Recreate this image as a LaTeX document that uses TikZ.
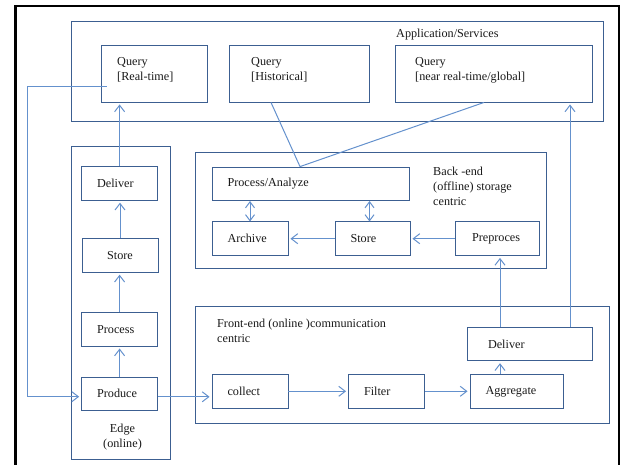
\documentclass[tikz,border=0pt]{standalone}
\usepackage{fontspec}
\setmainfont{Liberation Serif}
\usepackage{xcolor}
\usetikzlibrary{arrows.meta, calc}
\definecolor{boxc}{RGB}{60,95,145}
\definecolor{linec}{RGB}{100,145,205}
\definecolor{txtc}{RGB}{25,25,25}
\tikzset{
  box/.style={draw=boxc, line width=0.9pt, inner xsep=15.5pt, inner ysep=0pt,
    align=left, text=txtc, minimum height=33.5pt},
  group/.style={draw=boxc, line width=0.9pt, inner sep=0pt},
  lbl/.style={text=txtc, inner sep=0pt, align=left},
  link/.style={draw=linec, line width=1pt},
  arr/.style={link, shorten >=2pt, -{Straight Barb[length=6.5pt, width=10pt]}},
  darr/.style={link, {Straight Barb[length=6pt, width=9pt]}-{Straight Barb[length=6pt, width=9pt]}},
}

\begin{document}
\begin{tikzpicture}[x=1pt, y=-1pt, font=\fontsize{12.2}{15}\selectfont]
  \useasboundingbox (0,0) rectangle (621,465);
  % outer frame, open at the bottom
  \draw[line width=2.3pt] (15.5,470) -- (15.5,6) -- (619,6) -- (619,470);

  % Application/Services
  \node[group, minimum width=532.5pt, minimum height=100pt] (app) at (337.25,71) {};
  \node[lbl, anchor=base west] (app-t) at (396,37.4) {Application/Services};
  \node[group, minimum width=106.5pt, minimum height=57pt] (qrt) at (154.25,73.5) {};
  \node[group, minimum width=140.5pt, minimum height=57pt] (qh) at (299.25,73.5) {};
  \node[group, minimum width=197pt, minimum height=57pt] (qn) at (493.5,73.5) {};
  \node[lbl, anchor=north west] (qrt-t) at (117,57.2) {Query\\{[Real-time]}};
  \node[lbl, anchor=north west] (qh-t) at (251,57.2) {Query\\{[Historical]}};
  \node[lbl, anchor=north west] (qn-t) at (415,57.2) {Query\\{[near real-time/global]}};

  % Edge (online)
  \node[group, minimum width=98.5pt, minimum height=313pt] (edge) at (120.75,302.5) {};
  \node[box, text width=45pt] (dlv) at (119.6,183.5) {Deliver};
  \node[box, text width=45pt, align=center] (sto) at (120,255.5) {Store};
  \node[box, text width=45pt] (prc) at (119.6,329.3) {Process};
  \node[box, text width=45pt] (prd) at (119.6,393.8) {Produce};
  \node[lbl, align=center, anchor=north] (edge-t) at (122.5,423.8) {Edge\\(online)};

  % Back-end
  \node[group, minimum width=351pt, minimum height=116pt] (back) at (370.5,210) {};
  \node[lbl, anchor=north west] (back-t) at (433,166.7) {Back -end\\(offline) storage\\centric};
  \node[box, text width=166pt] (pa) at (310.5,183.8) {Process/Analyze};
  \node[box, text width=45pt] (arc) at (250,238.7) {Archive};
  \node[box, text width=44pt] (bsto) at (372.5,238.7) {Store};
  \node[box, text width=50pt, inner xsep=17pt] (pre) at (497,238.7) {Preproces};

  % Front-end
  \node[group, minimum width=414pt, minimum height=117.5pt] (front) at (402,364.75) {};
  \node[lbl, anchor=north west] (front-t) at (217,319.1) {Front-end (online )communication\\centric};
  \node[box, text width=83pt, inner xsep=21pt] (fdlv) at (529.5,344) {Deliver};
  \node[box, text width=45pt] (col) at (250,391.3) {collect};
  \node[box, text width=45pt] (fil) at (386.5,391.3) {Filter};
  \node[box, text width=62pt] (agg) at (516.5,391.3) {Aggregate};

  % edge chain
  \draw[arr] (prd.north) -- (prd.north |- prc.south);
  \draw[arr] (prc.north) -- (prc.north |- sto.south);
  \draw[arr] (sto.north) -- (sto.north |- dlv.south);
  \draw[arr] (dlv.north) -- (dlv.north |- qrt.south);
  \coordinate (loop) at (27,396.7);
  \draw[arr] ([shift={(6pt,-13.5pt)}]qrt.west) -| (loop) -- (loop -| prd.west);

  % front chain
  \draw[arr] ([yshift=-3pt]prd.east) -- ([yshift=-3pt]prd.east -| col.west);
  \draw[arr] (col) -- (fil);
  \draw[arr] (fil) -- (agg);
  \draw[arr] ([xshift=-16.5pt]agg.north) -- ([xshift=-16.5pt]agg.north |- fdlv.south);
  \draw[arr] ([xshift=3pt]pre.south |- fdlv.north) -- ([xshift=3pt]pre.south);
  \draw[arr] ([xshift=40.5pt]fdlv.north) -- ([xshift=40.5pt]fdlv.north |- qn.south);

  % back chain
  \draw[arr] (pre) -- (bsto);
  \draw[arr] (bsto) -- (arc);
  \draw[darr] (arc.north) -- (arc.north |- pa.south);
  \draw[darr] ([xshift=-3pt]bsto.north) -- ([xshift=-3pt]bsto.north |- pa.south);
  \draw[link] ([xshift=-28.25pt]qh.south) -- ([xshift=-10.5pt]pa.north);
  \draw[link] ([xshift=-9.5pt]qn.south) -- ([xshift=-10.5pt]pa.north);
\end{tikzpicture}
\end{document}
